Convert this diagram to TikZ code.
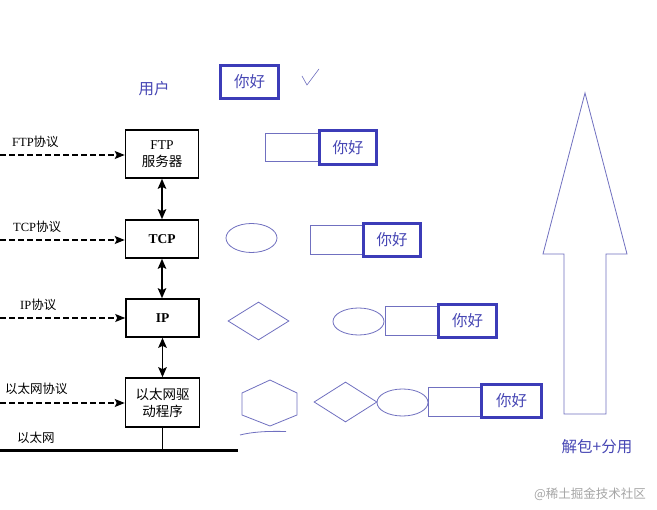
\documentclass[tikz,border=0pt]{standalone}
\usepackage{fontspec}
\setmainfont{Liberation Serif}
\newfontfamily\cjk{Noto Sans CJK SC}
\usetikzlibrary{arrows.meta,shapes.geometric}
\definecolor{bluetxt}{HTML}{4646B4}
\definecolor{bluebox}{HTML}{3C3CB8}
\definecolor{thinblue}{HTML}{7070C0}
\tikzset{
  blk/.style={draw=black, line width=1.6pt, fill=white, inner sep=0pt, align=center, font=\fontsize{13.5}{17}\selectfont},
  lbl/.style={anchor=west, inner sep=0pt, font=\fontsize{12.5}{15}\selectfont},
  dasharrow/.style={line width=1.2pt, dash pattern=on 5.5pt off 3.5pt, -{Stealth[length=10pt,width=8pt,inset=2pt]}},
  duoarrow/.style={line width=1.6pt, {Stealth[length=10pt,width=8.5pt,inset=2pt]}-{Stealth[length=10pt,width=8.5pt,inset=2pt]}},
  boldbox/.style={draw=bluebox, line width=3pt, inner sep=0pt, text=bluetxt, font=\cjk\fontsize{15.5}{18}\selectfont},
  thinrect/.style={draw=thinblue, line width=0.8pt, inner sep=0pt},
  thinshape/.style={draw=thinblue, line width=0.8pt, inner sep=0pt},
  bluetext/.style={text=bluetxt, inner sep=0pt, font=\cjk\fontsize{15.5}{18}\selectfont}
}
\begin{document}
\begin{tikzpicture}[x=1pt,y=-1pt]
\useasboundingbox[fill=white] (0,0) rectangle (657,510);

% left stack
\node[blk, minimum width=73pt, minimum height=48pt] (ftp) at (162,154) {FTP\\{\cjk 服务器}};
\node[blk, minimum width=73pt, minimum height=38pt] (tcp) at (162,239) {\textbf{TCP}};
\node[blk, minimum width=73pt, minimum height=38pt] (ip) at (162.5,318) {\textbf{IP}};
\node[blk, minimum width=74pt, minimum height=49pt] (eth) at (162.5,402.5) {{\cjk 以太网驱}\\{\cjk 动程序}};

\draw[duoarrow] (ftp.south) -- (tcp.north);
\draw[duoarrow] (tcp.south) -- (tcp.south |- ip.north);
\draw[duoarrow] (ip.south) -- (eth.north);

\coordinate (busL) at (0,451);
\coordinate (busR) at (238,451);
\draw[line width=3pt] (busL) -- (busR);
\draw[line width=1.2pt] (eth.south) -- (eth.south |- busL);

\coordinate (fL) at (0,155);
\coordinate (tL) at (0,240);
\coordinate (iL) at (0,318);
\coordinate (eL) at (0,403);
\draw[dasharrow] (fL) -- (ftp.west |- fL);
\draw[dasharrow] (tL) -- (tcp.west |- tL);
\draw[dasharrow] (iL) -- (ip.west |- iL);
\draw[dasharrow] (eL) -- (eth.west |- eL);

\node[lbl] (lftp) at (12,142) {FTP{\cjk 协议}};
\node[lbl] (ltcp) at (13,227) {TCP{\cjk 协议}};
\node[lbl] (lip) at (20,305) {IP{\cjk 协议}};
\node[lbl] (leth) at (5,389) {{\cjk 以太网协议}};
\node[lbl] (lbus) at (17,438) {{\cjk 以太网}};

% blue annotations
\node[bluetext] (user) at (154,89) {用户};
\node[boldbox, minimum width=58pt, minimum height=33pt] (b0) at (249.5,82) {你好};
\draw[thinshape, line width=0.6pt] (302,76) -- (307,85) -- (319,69);

% row 1
\node[thinrect, minimum width=53pt, minimum height=28pt] (r1) at (291.5,147) {};
\node[boldbox, minimum width=57pt, minimum height=34pt] (b1) at (348,147.5) {你好};

% row 2
\node[thinshape, ellipse, minimum width=51pt, minimum height=29pt] (e2) at (251.5,238) {};
\node[thinrect, minimum width=52pt, minimum height=29pt] (r2) at (336,239.5) {};
\node[boldbox, minimum width=57pt, minimum height=33pt] (b2) at (392,240) {你好};

% row 3
\node[thinshape, diamond, minimum width=61pt, minimum height=38pt] (d3) at (258.5,321) {};
\node[thinshape, ellipse, minimum width=51pt, minimum height=27pt] (e3) at (358.5,321.5) {};
\node[thinrect, minimum width=52pt, minimum height=29pt] (r3) at (411,320.5) {};
\node[boldbox, minimum width=58pt, minimum height=33pt] (b3) at (467.5,321) {你好};

% row 4
\draw[thinshape] (270,380) -- (297,393) -- (297,415) -- (270,426) -- (242,415) -- (242,393) -- cycle;
\draw[thinshape] (240,435) .. controls (252,432) and (266,431) .. (286,431.5);
\node[thinshape, diamond, minimum width=63pt, minimum height=40pt] (d4) at (345.5,402) {};
\node[thinshape, ellipse, minimum width=51pt, minimum height=27pt] (e4) at (402.5,402.5) {};
\node[thinrect, minimum width=52pt, minimum height=29pt] (r4) at (454,401.5) {};
\node[boldbox, minimum width=60pt, minimum height=33pt] (b4) at (511.5,401) {你好};

% big arrow
\draw[thinshape] (585,93) -- (627,254) -- (606,254) -- (606,414) -- (564,414) -- (564,254) -- (543,254) -- cycle;
\node[bluetext] (unpack) at (597,447) {解包+分用};

% watermark
\node[inner sep=0pt, text=black!35, font=\cjk\fontsize{12.5}{15}\selectfont] (wm) at (590,494) {@稀土掘金技术社区};
\end{tikzpicture}
\end{document}
